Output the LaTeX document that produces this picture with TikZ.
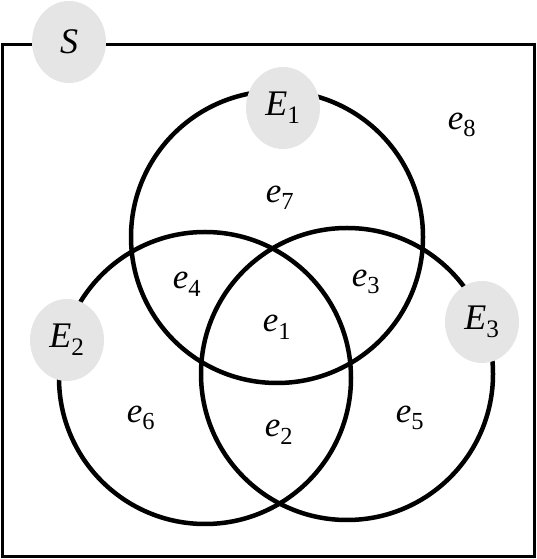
\documentclass[tikz,border=0pt]{standalone}
\usepackage{fontspec}
\setmainfont{Liberation Serif}
\usetikzlibrary{shapes.geometric}
\newcommand{\evname}[2]{{\itshape #1}\textsubscript{#2}}
\tikzset{
  event/.style={circle, draw, line width=4.5pt, minimum size=292pt, inner sep=0pt},
  tag/.style={ellipse, fill=black!10, minimum width=74pt, minimum height=82pt, inner sep=0pt,
    font=\fontsize{36}{36}\selectfont},
  region/.style={inner sep=0pt, font=\fontsize{35}{35}\selectfont}
}
\begin{document}
\begin{tikzpicture}[x=1pt,y=1pt]
                \useasboundingbox (0,0) rectangle (537,559);
                \draw[line width=3pt] (2,2) rectangle (534,514);
                % the three events
                \node[event] (c1) at (277,322) {};
                \node[event] (c2) at (205,181) {};
                \node[event] (c3) at (347,185) {};
                % names
                \node[tag] (s) at (69,517) {\itshape S};
                \node[tag] (t1) at (283,451) {\evname{E}{1}};
                \node[tag] (t2) at (67,219) {\evname{E}{2}};
                \node[tag] (t3) at (482,237) {\evname{E}{3}};
                % outcomes
                \node[region] (r1) at (277,232) {\evname{e}{1}};
                \node[region] (r2) at (279,127) {\evname{e}{2}};
                \node[region] (r3) at (366,277) {\evname{e}{3}};
                \node[region] (r4) at (187,275) {\evname{e}{4}};
                \node[region] (r5) at (410,141) {\evname{e}{5}};
                \node[region] (r6) at (141,141) {\evname{e}{6}};
                \node[region] (r7) at (280,361) {\evname{e}{7}};
                \node[region] (r8) at (462,434) {\evname{e}{8}};
            \end{tikzpicture}
\end{document}
